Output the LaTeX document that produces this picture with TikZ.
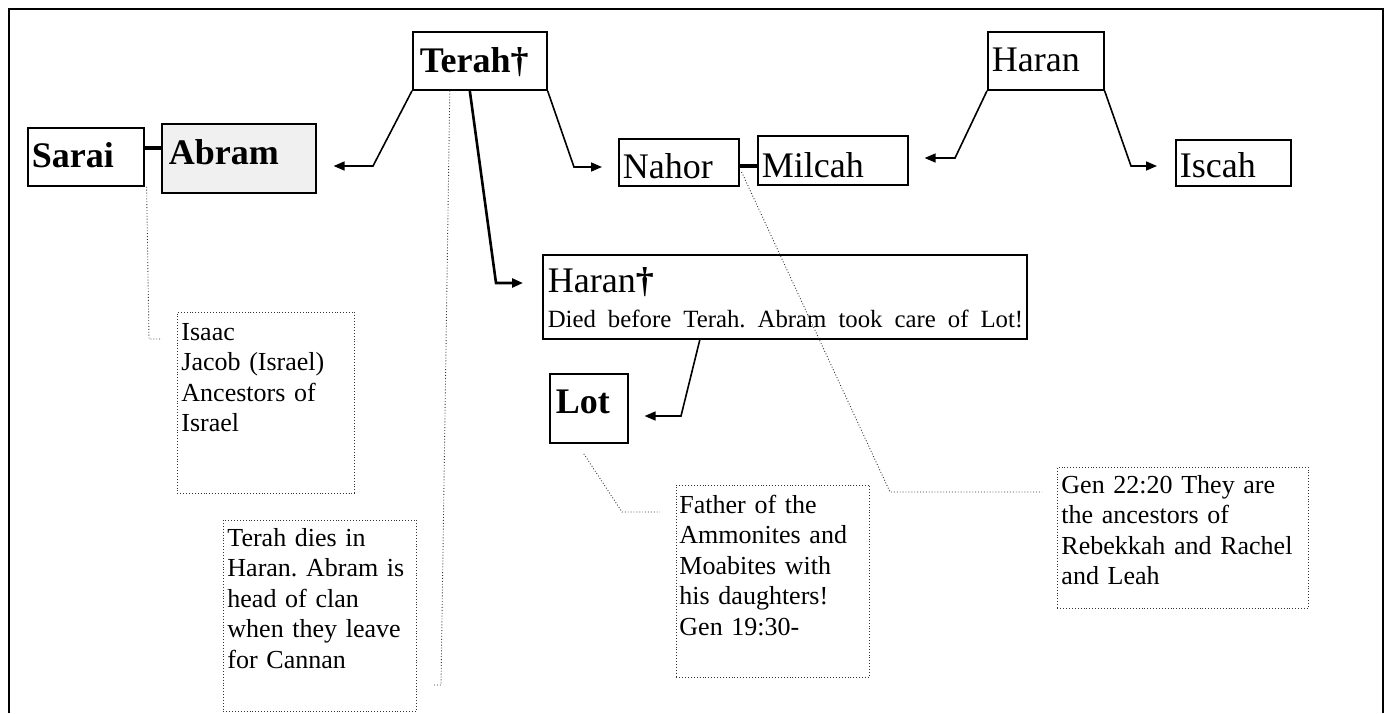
\documentclass[tikz,border=0pt]{standalone}
\usepackage{fontspec}
\setmainfont{Liberation Serif}
\usetikzlibrary{arrows.meta}

\begin{document}
\frenchspacing
\begin{tikzpicture}[x=0.5pt, y=-0.5pt,
    every node/.style = {anchor=base west, inner xsep=2pt, inner ysep=0pt, align=left},
    person/.style = {draw, line width=0.8pt, font=\fontsize{18}{20}\selectfont},
    note/.style = {draw, densely dotted, line width=0.45pt, draw=black!80,
                   font=\fontsize{13}{15.25}\selectfont},
    kid/.style = {line width=0.8pt, -{Triangle[length=5.5pt,width=4.5pt]}},
    wed/.style = {line width=2.2pt},
    tag/.style = {densely dotted, line width=0.45pt, black!80}]
    \useasboundingbox (0,0) rectangle (1390,713);
    \draw[line width=1.3pt] (9,713) -- (9,9) -- (1383,9) -- (1383,713);

    \node[person, inner xsep=3.5pt, text width=60pt, text height=20pt, text depth=9pt]
        (terah) at (412,72) {\textbf{Terah†}};
    \node[person, text width=54pt, text height=19.5pt, text depth=9.5pt]
        (sarai) at (27,167) {\textbf{Sarai}};
    \node[person, fill=black!6, inner xsep=3.5pt, text width=70pt, text height=20pt, text depth=14.5pt]
        (abram) at (161,164) {\textbf{Abram}};
    \node[person, text width=56pt, text height=19.5pt, text depth=4pt]
        (nahor) at (618,178) {Nahor};
    \node[person, text width=71pt, text height=20.5pt, text depth=4pt]
        (milcah) at (757,177) {Milcah};
    \node[person, text width=54pt, text height=19.5pt, text depth=9.5pt]
        (haran) at (987,71) {Haran};
    \node[person, text width=53.5pt, text height=18.5pt, text depth=4.5pt]
        (iscah) at (1175,177) {Iscah};
    \node[person, font=\fontsize{18}{17.5}\selectfont, inner xsep=2.5pt, text width=237pt,
          text height=18.5pt, text depth=23.5pt]
        (haranD) at (542,292) {Haran\textbf{†}\\
        \mbox{\fontsize{12.4}{15}\selectfont Died before Terah. Abram took care of Lot!}};
    \node[person, inner xsep=3pt, text width=33pt, text height=19.5pt, text depth=15pt]
        (lot) at (549,413) {\textbf{Lot}};

    \node[note, text width=84.5pt, text height=14pt, text depth=76.5pt]
        (noteIsaac) at (177,340) {Isaac\\Jacob (Israel)\\Ancestors of\\Israel};
    \node[note, text width=92.5pt, text height=13pt, text depth=82.5pt]
        (noteTerah) at (223,546) {Terah dies in\\Haran. Abram is\\head of clan\\when they leave\\for Cannan};
    \node[note, inner xsep=1.5pt, text width=93.5pt, text height=14pt, text depth=82pt]
        (noteLot) at (676,513) {Father of the\\Ammonites and\\Moabites with\\his daughters!\\Gen 19:30-};
    \node[note, text width=121.5pt, text height=13pt, text depth=57.5pt]
        (noteGen) at (1057,493) {Gen 22:20 They are\\the ancestors of\\Rebekkah and Rachel\\and Leah};

    \draw[wed] (sarai.east |- 0,148) -- (abram.west |- 0,148);
    \draw[wed] (nahor.east |- 0,166) -- (milcah.west |- 0,166);

    \draw[kid, shorten >=8.5pt] (terah.south west) -- (373,166) -- (abram.east |- 0,166);
    \draw[kid, shorten >=8pt] (terah.south east) -- (574,167) -- (nahor.west |- 0,167);
    \draw[kid, line width=1.3pt, shorten >=9.5pt] ([xshift=-5pt]terah.south) -- (496,283) -- (haranD.west |- 0,283);
    \draw[kid, shorten >=8pt] (haran.south west) -- (955,158) -- (milcah.east |- 0,158);
    \draw[kid, shorten >=9pt] (haran.south east) -- (1131,166) -- (iscah.west |- 0,166);
    \draw[kid, shorten >=8pt] ([xshift=-42.5pt]haranD.south) -- (681,416) -- (lot.east |- 0,416);

    \draw[tag, shorten >=8pt] ([xshift=1pt]sarai.south east) -- (149,339) -- (noteIsaac.west |- 0,339);
    \draw[tag, shorten >=8pt] ([xshift=-15pt]terah.south) -- (441,685) -- (noteTerah.east |- 0,685);
    \draw[tag, shorten >=8pt] ([shift={(-2.5pt,-5pt)}]lot.south) -- (622,512) -- (noteLot.west |- 0,512);
    \draw[tag, shorten >=7.5pt] ([shift={(1pt,-4.75pt)}]nahor.east) -- (890,492) -- (noteGen.west |- 0,492);
\end{tikzpicture}
\end{document}
